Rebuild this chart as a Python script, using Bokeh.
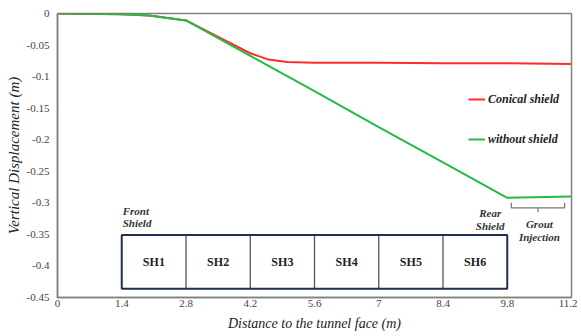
from bokeh.plotting import figure
from bokeh.models import Range1d, FixedTicker, Legend, LegendItem, ColumnDataSource
from bokeh.core.properties import value
from bokeh.embed import file_html
from bokeh.resources import INLINE

# ---- data ----
conical_x = [0, 1.4, 2.0, 2.8, 3.5, 4.2, 4.6, 5.0, 5.6, 7.0, 8.4, 9.8, 11.2]
conical_y = [0, -0.001, -0.003, -0.011, -0.037, -0.063, -0.073, -0.077, -0.078, -0.078, -0.079, -0.079, -0.080]
without_x = [0, 1.4, 2.0, 2.8, 4.2, 5.6, 7.0, 8.4, 9.8, 11.2]
without_y = [0, -0.001, -0.003, -0.011, -0.067, -0.123, -0.180, -0.236, -0.292, -0.290]

x_ticks = [0, 1.4, 2.8, 4.2, 5.6, 7, 8.4, 9.8, 11.2]
x_tick_labels = ["0", "1.4", "2.8", "4.2", "5.6", "7", "8.4", "9.8", "11.2"]
y_ticks = [0, -0.05, -0.1, -0.15, -0.2, -0.25, -0.3, -0.35, -0.4, -0.45]
y_tick_labels = ["0", "-0.05", "-0.1", "-0.15", "-0.2", "-0.25", "-0.3", "-0.35", "-0.4", "-0.45"]

shield_names = ["SH1", "SH2", "SH3", "SH4", "SH5", "SH6"]
shield_left = [1.4, 2.8, 4.2, 5.6, 7.0, 8.4]
shield_right = [2.8, 4.2, 5.6, 7.0, 8.4, 9.8]
shield_top = -0.351
shield_bottom = -0.436

serif = "Liberation Serif"

p = figure(width=577, height=333, output_backend="svg", toolbar_location=None,
           x_range=Range1d(0, 11.2), y_range=Range1d(-0.45, 0),
           min_border_left=57, min_border_right=6, min_border_top=13, min_border_bottom=36)
p.grid.visible = False
p.outline_line_color = "#808080"
p.outline_line_width = 1.5
p.background_fill_color = "white"

# axes
p.xaxis.ticker = FixedTicker(ticks=x_ticks)
p.xaxis.major_label_overrides = {t: l for t, l in zip(x_ticks, x_tick_labels)}
p.yaxis.ticker = FixedTicker(ticks=y_ticks)
p.yaxis.major_label_overrides = {t: l for t, l in zip(y_ticks, y_tick_labels)}
for ax in (p.xaxis, p.yaxis):
    ax.major_tick_line_color = None
    ax.minor_tick_line_color = None
    ax.major_tick_out = 0
    ax.major_tick_in = 0
    ax.axis_line_color = "#808080"
    ax.axis_line_width = 1.5
    ax.major_label_text_font = serif
    ax.major_label_text_font_size = "11px"
    ax.major_label_text_color = "#444444"
    ax.axis_label_text_font = serif
    ax.axis_label_text_font_style = "italic"
    ax.axis_label_text_color = "#222222"
p.xaxis.axis_label = "Distance to the tunnel face (m)"
p.xaxis.axis_label_text_font_size = "14px"
p.xaxis.major_label_standoff = 2
p.xaxis.axis_label_standoff = 6
p.yaxis.axis_label = "Vertical Displacement (m)"
p.yaxis.axis_label_text_font_size = "15px"
p.yaxis.major_label_standoff = 8
p.yaxis.axis_label_standoff = 2

# curves
r1 = p.line(conical_x, conical_y, line_color="#ff2b2b", line_width=2)
r2 = p.line(without_x, without_y, line_color="#22bb44", line_width=2)

legend = Legend(items=[LegendItem(label="Conical shield", renderers=[r1]),
                       LegendItem(label="without shield", renderers=[r2])],
                location=(411, 148), padding=0, margin=0, spacing=20,
                glyph_width=17, glyph_height=20, label_height=20, label_standoff=3,
                border_line_color=None, background_fill_alpha=0,
                label_text_font=serif, label_text_font_style="bold italic",
                label_text_font_size="12px", label_text_color="#222222")
p.add_layout(legend)

# shield boxes
src = ColumnDataSource(dict(left=shield_left, right=shield_right,
                            cx=[(a + b) / 2 for a, b in zip(shield_left, shield_right)],
                            name=shield_names))
p.segment(x0=shield_right[:-1], y0=[shield_top] * 5, x1=shield_right[:-1], y1=[shield_bottom] * 5,
          line_color="#555555", line_width=1.3)
p.quad(left=[shield_left[0]], right=[shield_right[-1]], top=[shield_top], bottom=[shield_bottom],
       fill_color=None, line_color="#1f2f4f", line_width=2)
p.text(x="cx", y=(shield_top + shield_bottom) / 2, text="name", source=src,
       text_font=value(serif), text_font_style="bold", text_font_size="12px",
       text_align="center", text_baseline="middle", text_color="#222222")

# annotations
p.text(x=[1.42, 1.42], y=[-0.313, -0.332], text=["Front", "Shield"],
       text_font=value(serif), text_font_style="bold italic", text_font_size="11px",
       text_align="left", text_baseline="middle", text_color="#333333")
p.text(x=[9.67, 9.74], y=[-0.316, -0.336], text=["Rear", "Shield"],
       text_font=value(serif), text_font_style="bold italic", text_font_size="11px",
       text_align="right", text_baseline="middle", text_color="#333333")
p.text(x=[10.5, 10.5], y=[-0.333, -0.354], text=["Grout", "Injection"],
       text_font=value(serif), text_font_style="bold italic", text_font_size="11px",
       text_align="center", text_baseline="middle", text_color="#333333")

# bracket
p.multi_line(xs=[[9.89, 9.89, 11.05, 11.05], [10.47, 10.47]],
             ys=[[-0.300, -0.308, -0.308, -0.300], [-0.308, -0.315]],
             line_color="#777777", line_width=1.2)

open("out.html", "w").write(file_html(p, INLINE))
